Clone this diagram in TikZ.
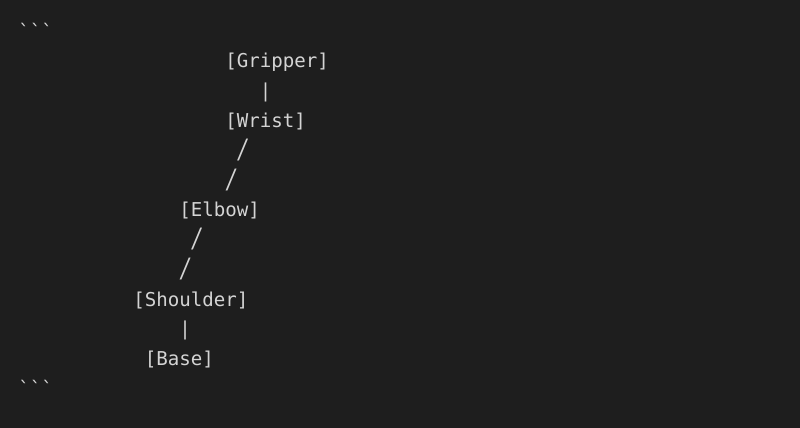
\documentclass[tikz,border=0pt]{standalone}
\usepackage{graphicx}
\usepackage{fontspec}
\setmonofont{DejaVu Sans Mono}
\newfontfamily\thinfont{DejaVu Sans ExtraLight}
\definecolor{bg}{HTML}{1E1E1E}
\definecolor{fg}{HTML}{D4D4D4}
\newcommand\wideslash{\scalebox{1.35}[1]{/}}
\begin{document}
\begin{tikzpicture}[x=0.75pt,y=-0.75pt,
  txt/.style={anchor=base west,inner sep=0pt,outer sep=0pt,text=fg,
    font=\ttfamily\fontsize{14.33pt}{17pt}\selectfont},
  slash/.style={anchor=center,inner sep=0pt,outer sep=0pt,text=fg,
    font=\thinfont\fontsize{20pt}{24pt}\selectfont}]
\fill[bg] (0,0) rectangle (800,428);
\useasboundingbox (0,0) rectangle (800,428);
\def\cx#1{18.4+#1*11.5}
\def\ry#1{38.25+#1*29.75}
\node[txt] (fenceA) at ({\cx{0}},{\ry{0}}) {```};
\node[txt] (gripper) at ({\cx{18}},{\ry{1}}) {[Gripper]};
\node[txt] (barA) at ({\cx{21}},{\ry{2}}) {|};
\node[txt] (wrist) at ({\cx{18}},{\ry{3}}) {[Wrist]};
\node[slash] (slA) at ({\cx{19.5}},{\ry{4}-7}) {\wideslash};
\node[slash] (slB) at ({\cx{18.5}},{\ry{5}-7}) {\wideslash};
\node[txt] (elbow) at ({\cx{14}},{\ry{6}}) {[Elbow]};
\node[slash] (slC) at ({\cx{15.5}},{\ry{7}-7}) {\wideslash};
\node[slash] (slD) at ({\cx{14.5}},{\ry{8}-7}) {\wideslash};
\node[txt] (shoulder) at ({\cx{10}},{\ry{9}}) {[Shoulder]};
\node[txt] (barB) at ({\cx{14}},{\ry{10}}) {|};
\node[txt] (base) at ({\cx{11}},{\ry{11}}) {[Base]};
\node[txt] (fenceB) at ({\cx{0}},{\ry{12}}) {```};
\end{tikzpicture}
\end{document}
